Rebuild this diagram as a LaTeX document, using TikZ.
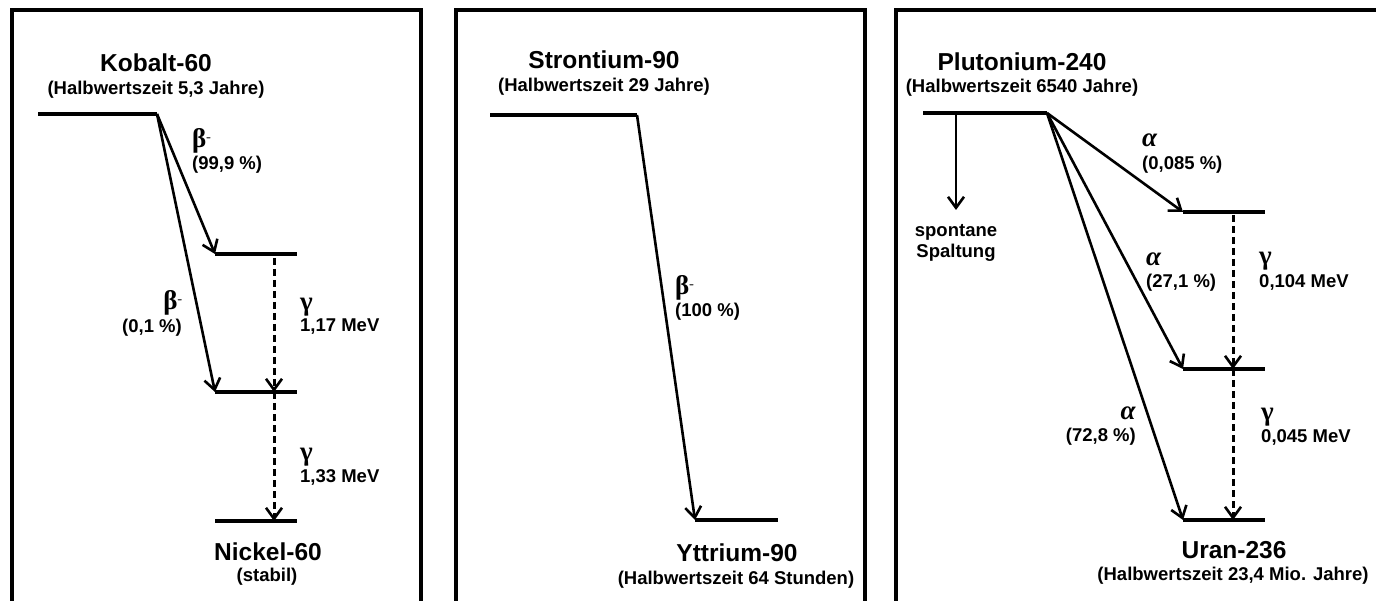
\documentclass[tikz,border=0pt]{standalone}
\usepackage{fontspec}
\setmainfont{Liberation Sans}
\newfontfamily\grk{Liberation Serif}
\usetikzlibrary{arrows.meta}
\tikzset{
  frame/.style={line width=4pt},
  level/.style={line width=4pt},
  decay/.style={line width=2.6pt, -{Straight Barb[length=11pt,width=16pt,line width=2.6pt]}},
  gam/.style={line width=3pt, -{Straight Barb[length=11pt,width=16pt,line width=2.6pt]}, dash pattern=on 7pt off 4pt},
  title/.style={font=\fontsize{24.5}{28}\selectfont\bfseries, inner sep=0pt},
  sub/.style={font=\fontsize{18.5}{21}\selectfont\bfseries, inner sep=0pt},
  lab/.style={font=\fontsize{18.5}{21.5}\selectfont\bfseries, inner sep=0pt},
  grl/.style={font=\fontsize{27}{28}\selectfont\grk\bfseries, inner sep=0pt}
}
\newcommand{\betam}{\textbf{β}\raisebox{0.5ex}{\fontsize{14}{14}\selectfont\sffamily\bfseries -}}
\begin{document}
\begin{tikzpicture}[x=1pt,y=-1pt]
\useasboundingbox (0,0) rectangle (1376,601);
\clip (0,0) rectangle (1376,601);
% frames
\draw[frame] (12,10) rectangle (421,620);
\draw[frame] (456,10) rectangle (865,620);
\draw[frame] (896,10) rectangle (1395,620);

% ---------- Kobalt-60 ----------
\coordinate (k0a) at (38,114);  \coordinate (k0b) at (157,114);
\coordinate (k1a) at (215,254); \coordinate (k1b) at (297,254);
\coordinate (k2a) at (215,392); \coordinate (k2b) at (297,392);
\coordinate (k3a) at (215,521); \coordinate (k3b) at (297,521);
\coordinate (kg1s) at (274,258); \coordinate (kg1e) at (274,392);
\coordinate (kg2e) at (274,521);
\draw[level] (k0a) -- (k0b);
\draw[level] (k1a) -- (k1b);
\draw[level] (k2a) -- (k2b);
\draw[level] (k3a) -- (k3b);
\draw[decay] (k0b) -- (k1a);
\draw[decay] (k0b) -- (k2a);
\draw[gam] (kg1s) -- (kg1e);
\draw[gam] (kg1e) -- (kg2e);
\node[title] (kt) at (156,63) {Kobalt-60};
\node[sub] (ks) at (156,90) {(Halbwertszeit 5,3 Jahre)};
\node[grl, anchor=west] (kb1) at (192,141) {\betam};
\node[lab, anchor=west] (kp1) at (192,165) {(99,9 \%)};
\node[grl, anchor=east] (kb2) at (183,303) {\betam};
\node[lab, anchor=east] (kp2) at (182,328) {(0,1 \%)};
\node[grl, anchor=west] (kgl1) at (300,307) {γ};
\node[lab, anchor=west] (kge1) at (300,327) {1,17 MeV};
\node[grl, anchor=west] (kgl2) at (300,457) {γ};
\node[lab, anchor=west] (kge2) at (300,477) {1,33 MeV};
\node[title] (nt) at (268,552) {Nickel-60};
\node[sub] (ns) at (267,577) {(stabil)};

% ---------- Strontium-90 ----------
\coordinate (s0a) at (490,115); \coordinate (s0b) at (637,115);
\coordinate (s1a) at (695,520); \coordinate (s1b) at (778,520);
\draw[level] (s0a) -- (s0b);
\draw[level] (s1a) -- (s1b);
\draw[decay] (s0b) -- (s1a);
\node[title] (st) at (604,60) {Strontium-90};
\node[sub] (ss) at (604,87) {(Halbwertszeit 29 Jahre)};
\node[grl, anchor=west] (sb) at (675,288) {\betam};
\node[lab, anchor=west] (sp) at (675,312) {(100 \%)};
\node[title] (yt) at (737,553) {Yttrium-90};
\node[sub] (ys) at (736,580) {(Halbwertszeit 64 Stunden)};

% ---------- Plutonium-240 ----------
\coordinate (p0a) at (923,113);  \coordinate (p0b) at (1047,113);
\coordinate (p1a) at (1183,212); \coordinate (p1b) at (1265,212);
\coordinate (p2a) at (1183,369); \coordinate (p2b) at (1265,369);
\coordinate (p3a) at (1183,520); \coordinate (p3b) at (1265,520);
\coordinate (sfs) at (956,115);  \coordinate (sfe) at (956,210);
\coordinate (pg1s) at (1233,215); \coordinate (pg1e) at (1233,369);
\coordinate (pg2e) at (1233,520);
\draw[level] (p0a) -- (p0b);
\draw[level] (p1a) -- (p1b);
\draw[level] (p2a) -- (p2b);
\draw[level] (p3a) -- (p3b);
\draw[decay] (sfs) -- (sfe);
\draw[decay] (p0b) -- (p1a);
\draw[decay] (p0b) -- (p2a);
\draw[decay] (p0b) -- (p3a);
\draw[gam] (pg1s) -- (pg1e);
\draw[gam] (pg1e) -- (pg2e);
\node[title] (pt) at (1022,62) {Plutonium-240};
\node[sub] (ps) at (1022,88) {(Halbwertszeit 6540 Jahre)};
\node[lab, align=center] (sf) at (956,243) {spontane\\Spaltung};
\node[grl, anchor=west] (pa1) at (1142,140) {\textit{α}};
\node[lab, anchor=west] (pp1) at (1142,165) {(0,085 \%)};
\node[grl, anchor=west] (pa2) at (1146,259) {\textit{α}};
\node[lab, anchor=west] (pp2) at (1146,283) {(27,1 \%)};
\node[grl, anchor=west] (pgl1) at (1259,261) {γ};
\node[lab, anchor=west] (pge1) at (1259,282) {0,104 MeV};
\node[grl, anchor=east] (pa3) at (1136,413) {\textit{α}};
\node[lab, anchor=east] (pp3) at (1136,437) {(72,8 \%)};
\node[grl, anchor=west] (pgl2) at (1261,417) {γ};
\node[lab, anchor=west] (pge2) at (1261,437) {0,045 MeV};
\node[title] (ut) at (1234,550) {Uran-236};
\node[sub] (us) at (1233,576) {(Halbwertszeit 23,4 Mio. Jahre)};
\end{tikzpicture}
\end{document}
